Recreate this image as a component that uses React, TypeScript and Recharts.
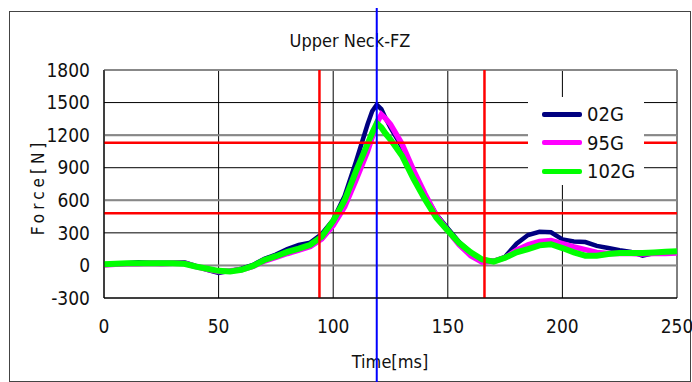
import React from 'react';
import { LineChart, Line, XAxis, YAxis, CartesianGrid, ReferenceLine, Legend } from 'recharts';

const TIME = [0, 5, 10, 15, 20, 25, 30, 35, 40, 45, 50, 55, 60, 65, 70, 75, 80, 85, 90, 95, 100, 105, 110, 115, 117, 119, 121, 123, 125, 130, 135, 140, 145, 150, 155, 160, 165, 170, 175, 180, 185, 190, 195, 200, 205, 210, 215, 220, 225, 230, 235, 240, 245, 250];
const G02 = [10, 15, 20, 30, 25, 25, 25, 30, -5, -40, -70, -50, -30, 5, 60, 100, 150, 190, 210, 290, 420, 640, 960, 1300, 1420, 1480, 1440, 1350, 1270, 1090, 850, 650, 470, 340, 215, 120, 55, 40, 80, 200, 280, 310, 305, 240, 220, 215, 180, 160, 140, 125, 90, 115, 120, 120];
const G95 = [5, 10, 15, 15, 20, 15, 20, 20, -10, -35, -55, -50, -40, -10, 40, 75, 110, 140, 175, 245, 370, 540, 790, 1050, 1180, 1310, 1390, 1350, 1300, 1120, 880, 660, 460, 320, 190, 90, 30, 40, 70, 140, 190, 220, 230, 200, 170, 145, 120, 110, 110, 110, 105, 110, 110, 115];
const G102 = [10, 15, 20, 20, 20, 20, 20, 15, -10, -30, -50, -55, -40, -5, 50, 85, 125, 155, 190, 265, 410, 600, 870, 1120, 1220, 1310, 1270, 1210, 1160, 1010, 800, 610, 440, 320, 205, 120, 55, 35, 70, 120, 150, 185, 195, 160, 120, 90, 90, 105, 115, 115, 115, 120, 125, 130];

const X_TICKS = [0, 50, 100, 150, 200, 250];
const Y_TICKS = [-300, 0, 300, 600, 900, 1200, 1500, 1800];
const GRAY_LEVELS = [0, 600, 1200, 1800];
const RED_TIMES = [94, 166];
const RED_FORCES = [1130, 480];
const PEAK_TIME = 119;

const SERIES = [
  { key: '02G', values: G02, color: '#000080', width: 4.5 },
  { key: '95G', values: G95, color: '#ff00ff', width: 5.5 },
  { key: '102G', values: G102, color: '#00ff00', width: 6 },
];

const data = TIME.map((t, i) => ({ t, '02G': G02[i], '95G': G95[i], '102G': G102[i] }));

const FONT = "'Liberation Sans Narrow', 'DejaVu Sans Condensed', 'Noto Sans', sans-serif";

function LegendBox() {
  return (
    <div style={{ background: '#fff', width: 116, height: 88, position: 'relative', fontFamily: FONT }}>
      {SERIES.map((s, i) => (
        <div key={s.key} style={{ position: 'absolute', left: 14, top: 6 + i * 28.5, height: 22, display: 'flex', alignItems: 'center' }}>
          <div style={{ width: 40, height: 5, background: s.color, borderRadius: 2 }} />
          <span style={{ marginLeft: 5, fontSize: 20, color: '#111' }}>{s.key}</span>
        </div>
      ))}
    </div>
  );
}

export default function App() {
  return (
    <div style={{ position: 'absolute', left: 0, top: 0, width: 692, height: 382, background: '#fff', fontFamily: FONT }}>
      <div style={{ position: 'absolute', left: 9, top: 11, width: 680, height: 369, border: '1px solid #444' }} />
      <div style={{ position: 'absolute', left: 0, top: 30, width: 700, textAlign: 'center', fontSize: 18, color: '#111' }}>Upper Neck-FZ</div>
      <div style={{ position: 'absolute', left: 0, top: 351, width: 780, textAlign: 'center', fontSize: 18, color: '#111' }}>Time[ms]</div>
      <div style={{ position: 'absolute', left: 0, top: 0 }}>
        <LineChart width={692} height={382} data={data} margin={{ top: 70, right: 15, bottom: 54, left: 44 }}>
          <CartesianGrid stroke="#000" strokeWidth={1} />
          <XAxis
            dataKey="t"
            type="number"
            domain={[0, 250]}
            ticks={X_TICKS}
            height={30}
            axisLine={{ stroke: '#000' }}
            tickLine={false}
            tickSize={0}
            tickMargin={22}
            tick={{ fontSize: 19, fill: '#111', fontFamily: FONT }}
          />
          <YAxis
            type="number"
            domain={[-300, 1800]}
            ticks={Y_TICKS}
            width={60}
            axisLine={{ stroke: '#000' }}
            tickLine={false}
            tickSize={0}
            tickMargin={14}
            tick={{ fontSize: 19, fill: '#111', fontFamily: FONT }}
            label={{
              content: () => (
                <text x={38} y={187} transform="rotate(-90 38 187)" textAnchor="middle" dominantBaseline="central" fontSize={17} letterSpacing={4} fill="#111" fontFamily={FONT}>
                  Force[N]
                </text>
              ),
            }}
          />
          {GRAY_LEVELS.map((v) => (
            <ReferenceLine key={`g${v}`} y={v} stroke="#888" strokeWidth={2} />
          ))}
          {SERIES.map((s) => (
            <Line key={s.key} dataKey={s.key} type="linear" stroke={s.color} strokeWidth={s.width} dot={false} isAnimationActive={false} />
          ))}
          {RED_TIMES.map((v) => (
            <ReferenceLine key={`rx${v}`} x={v} stroke="#ff0000" strokeWidth={2.5} />
          ))}
          {RED_FORCES.map((v) => (
            <ReferenceLine key={`ry${v}`} y={v} stroke="#ff0000" strokeWidth={2.5} />
          ))}
          <Legend
            layout="vertical"
            align="center"
            verticalAlign="middle"
            content={() => <LegendBox />}
            wrapperStyle={{ position: 'absolute', left: 528, top: 97, width: 116, height: 88 }}
          />
          <ReferenceLine
            x={PEAK_TIME}
            stroke="#0000ff"
            strokeWidth={2}
            shape={(p: any) => <line x1={p.x1} x2={p.x2} y1={8} y2={382} stroke="#0000ff" strokeWidth={2} />}
          />
        </LineChart>
      </div>
    </div>
  );
}
